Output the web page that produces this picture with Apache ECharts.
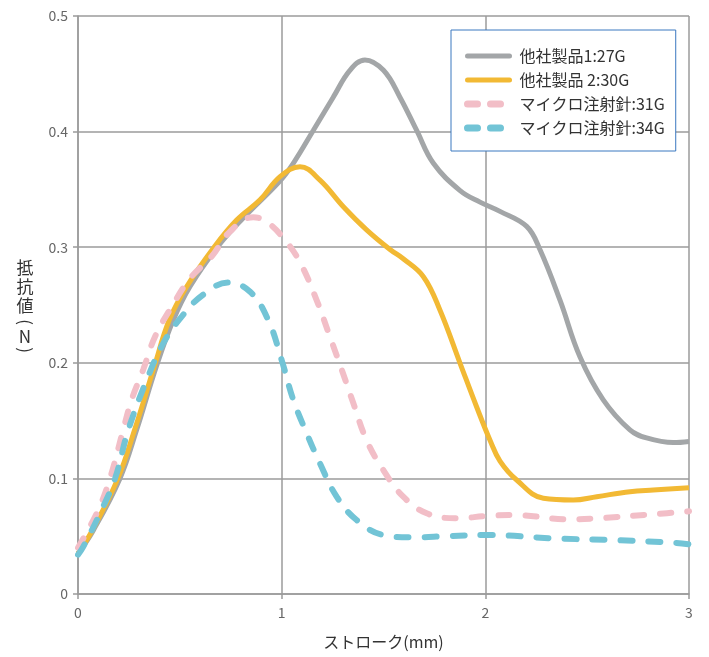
<!DOCTYPE html>
<html>
<head>
<meta charset="utf-8">
<script src="https://cdn.jsdelivr.net/npm/echarts@6/dist/echarts.min.js"></script>
<style>
html,body{margin:0;padding:0;background:#fff;}
#c{width:709px;height:657px;}
</style>
</head>
<body>
<div id="c"></div>
<script>
const seriesNames = ['他社製品1:27G', '他社製品 2:30G', 'マイクロ注射針:31G', 'マイクロ注射針:34G'];
const xTicks = [0, 1, 2, 3];
const yTicks = [0, 0.1, 0.2, 0.3, 0.4, 0.5];
const xAxisTitle = 'ストローク(mm)';
const yAxisTitleChars = ['抵', '抗', '値', '(', 'N', ')'];

const stroke27 = [0, 0.075, 0.206, 0.288, 0.385, 0.468, 0.55, 0.684, 0.81, 0.99, 1.057, 1.155, 1.254, 1.335, 1.409, 1.5, 1.58, 1.663, 1.745, 1.876, 1.974, 2.072, 2.203, 2.268, 2.367, 2.465, 2.579, 2.71, 2.792, 2.923, 3.0];
const force27  = [0.035, 0.055, 0.1, 0.142, 0.197, 0.237, 0.266, 0.3, 0.325, 0.357, 0.3726, 0.401, 0.430, 0.453, 0.462, 0.453, 0.430, 0.401, 0.3726, 0.349, 0.339, 0.331, 0.318, 0.298, 0.254, 0.205, 0.168, 0.142, 0.135, 0.131, 0.132];

const stroke30 = [0, 0.07, 0.196, 0.278, 0.375, 0.448, 0.534, 0.668, 0.779, 0.894, 0.992, 1.09, 1.188, 1.303, 1.417, 1.532, 1.597, 1.696, 1.777, 1.876, 1.957, 2.023, 2.072, 2.154, 2.285, 2.432, 2.547, 2.71, 2.825, 3.0];
const force30  = [0.035, 0.055, 0.1, 0.142, 0.197, 0.237, 0.266, 0.3, 0.3235, 0.341, 0.361, 0.3697, 0.358, 0.335, 0.315, 0.298, 0.290, 0.2745, 0.2457, 0.1996, 0.162, 0.133, 0.115, 0.0986, 0.0828, 0.0813, 0.0842, 0.0885, 0.090, 0.092];

const stroke31 = [0, 0.095, 0.157, 0.222, 0.263, 0.32, 0.378, 0.46, 0.55, 0.656, 0.746, 0.861, 0.926, 1.008, 1.09, 1.172, 1.237, 1.295, 1.352, 1.417, 1.5, 1.597, 1.712, 1.859, 2.007, 2.137, 2.416, 2.547, 2.84, 3.0];
const force31  = [0.04, 0.071, 0.1, 0.142, 0.168, 0.194, 0.2226, 0.2485, 0.273, 0.292, 0.3135, 0.326, 0.322, 0.308, 0.287, 0.254, 0.2226, 0.194, 0.165, 0.133, 0.107, 0.0842, 0.0698, 0.0655, 0.0675, 0.0683, 0.0646, 0.0655, 0.0692, 0.0715];

const stroke34 = [0, 0.026, 0.108, 0.182, 0.247, 0.337, 0.419, 0.509, 0.615, 0.738, 0.845, 0.934, 1.0, 1.057, 1.123, 1.188, 1.27, 1.368, 1.5, 1.646, 1.81, 2.007, 2.35, 2.628, 2.923, 3.0];
const force34  = [0.034, 0.041, 0.0698, 0.1, 0.142, 0.185, 0.217, 0.240, 0.259, 0.2695, 0.2615, 0.237, 0.2024, 0.168, 0.139, 0.113, 0.0842, 0.064, 0.051, 0.049, 0.050, 0.051, 0.048, 0.0467, 0.0444, 0.043];

function zip(xs, ys) { return xs.map((x, i) => [x, ys[i]]); }

const FONT = '"Noto Sans CJK JP", "Noto Sans", sans-serif';
const GRIDC = '#9b9b9b';
const COLORS = ['#a3a6a8', '#f2b934', '#f2bec7', '#72c4d6'];

// vertical y-axis title: characters stacked, parentheses turned
const yTitleCenters = [268, 287, 306, 322, 337, 350];
const yTitleGraphics = yAxisTitleChars.map((ch, i) => {
  const isParen = ch === '(' || ch === ')';
  return {
    type: 'text',
    x: 25, y: yTitleCenters[i],
    rotation: isParen ? -Math.PI / 2 : 0,
    style: {
      text: ch,
      fontFamily: FONT,
      fontSize: 17,
      fill: '#333',
      align: 'center',
      verticalAlign: 'middle'
    }
  };
});

const chart = echarts.init(document.getElementById('c'));
chart.setOption({
  animation: false,
  textStyle: { fontFamily: FONT },
  grid: { left: 78, right: 20, top: 16, bottom: 63 },
  graphic: yTitleGraphics,
  legend: {
    orient: 'vertical',
    left: 451, top: 30,
    backgroundColor: '#fff',
    borderColor: '#3a78c0',
    borderWidth: 1,
    padding: [18, 11, 15, 13],
    itemGap: 8,
    itemWidth: 42,
    itemHeight: 14,
    itemStyle: { opacity: 0 },
    textStyle: { fontFamily: FONT, fontSize: 16, color: '#333', padding: [0, 0, 0, 5] },
    data: [
      { name: seriesNames[0], lineStyle: { color: COLORS[0], width: 5, type: 'solid', cap: 'round' } },
      { name: seriesNames[1], lineStyle: { color: COLORS[1], width: 5, type: 'solid', cap: 'round' } },
      { name: seriesNames[2], lineStyle: { color: COLORS[2], width: 7, type: [10, 13], cap: 'round' } },
      { name: seriesNames[3], lineStyle: { color: COLORS[3], width: 7, type: [10, 13], cap: 'round' } }
    ]
  },
  xAxis: {
    type: 'value',
    min: xTicks[0], max: xTicks[xTicks.length - 1], interval: 1,
    name: xAxisTitle,
    nameLocation: 'middle',
    nameGap: 40,
    nameTextStyle: { fontFamily: FONT, fontSize: 16, color: '#333' },
    axisLine: { lineStyle: { color: GRIDC, width: 1.5 } },
    axisTick: { show: true, length: 5, lineStyle: { color: GRIDC, width: 1.5 } },
    axisLabel: { fontFamily: FONT, fontSize: 14, color: '#666', margin: 12 },
    splitLine: { show: true, lineStyle: { color: GRIDC, width: 1.5 } }
  },
  yAxis: {
    type: 'value',
    min: yTicks[0], max: yTicks[yTicks.length - 1], interval: 0.1,
    axisLine: { show: true, lineStyle: { color: GRIDC, width: 1.5 } },
    axisTick: { show: true, length: 5, lineStyle: { color: GRIDC, width: 1.5 } },
    axisLabel: { fontFamily: FONT, fontSize: 14, color: '#666', margin: 10 },
    splitLine: { show: true, lineStyle: { color: GRIDC, width: 1.5 } }
  },
  series: [
    {
      name: seriesNames[0], type: 'line', smooth: 0.4, symbol: 'none', z: 2,
      lineStyle: { color: COLORS[0], width: 5 }, itemStyle: { color: COLORS[0] },
      data: zip(stroke27, force27)
    },
    {
      name: seriesNames[1], type: 'line', smooth: 0.4, symbol: 'none', z: 3,
      lineStyle: { color: COLORS[1], width: 5 }, itemStyle: { color: COLORS[1] },
      data: zip(stroke30, force30)
    },
    {
      name: seriesNames[2], type: 'line', smooth: 0.4, symbol: 'none', z: 4,
      lineStyle: { color: COLORS[2], width: 6, type: [11, 16], cap: 'round' }, itemStyle: { color: COLORS[2] },
      data: zip(stroke31, force31)
    },
    {
      name: seriesNames[3], type: 'line', smooth: 0.4, symbol: 'none', z: 5,
      lineStyle: { color: COLORS[3], width: 6, type: [12, 16], cap: 'round' }, itemStyle: { color: COLORS[3] },
      data: zip(stroke34, force34)
    }
  ]
});
</script>
</body>
</html>
